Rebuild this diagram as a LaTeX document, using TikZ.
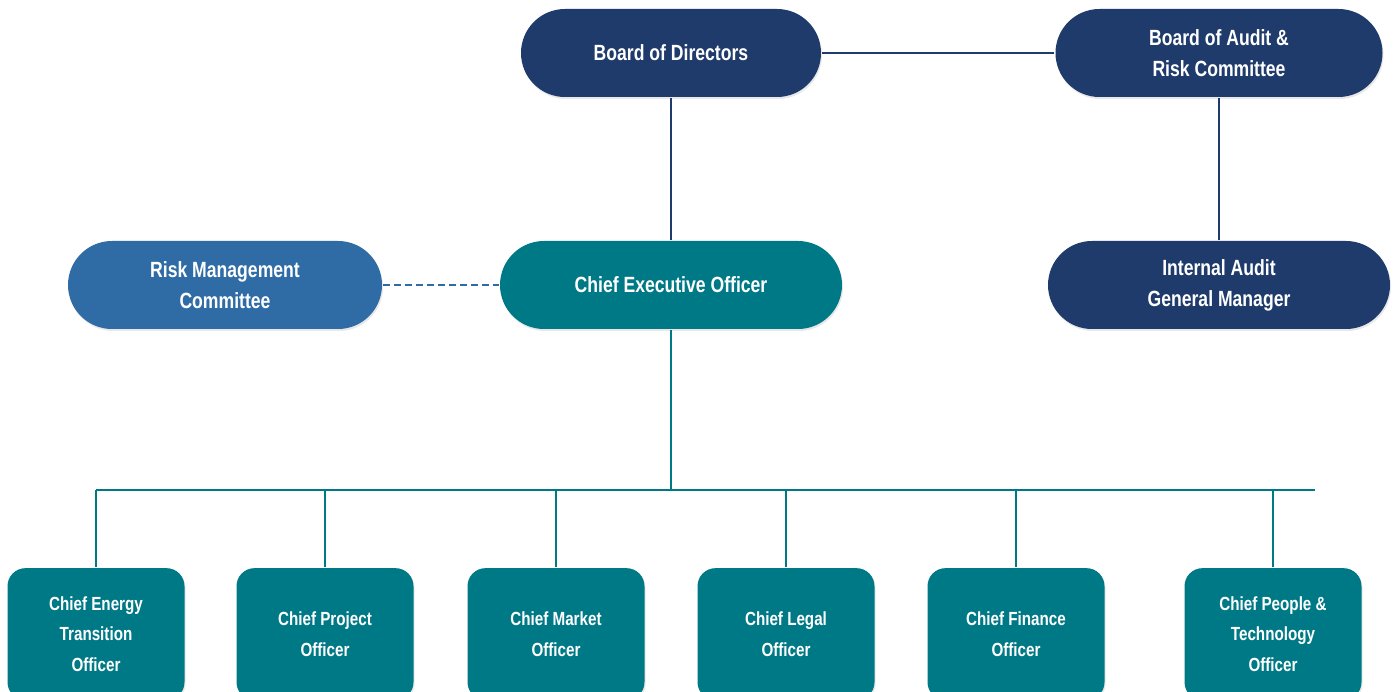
\documentclass[tikz,border=0pt]{standalone}
\usepackage{fontspec}
\setmainfont{Liberation Sans}[FakeStretch=0.8]
\usepackage{tikz}
\usetikzlibrary{positioning,shadows}
\definecolor{navy}{HTML}{1F3B6B}
\definecolor{teal}{HTML}{007987}
\definecolor{riskblue}{HTML}{2F6CA6}
\newcommand{\Txt}{\bfseries\fontsize{22}{31}\selectfont}
\newcommand{\SmallTxt}{\bfseries\fontsize{19}{30.5}\selectfont}

\begin{document}
\begin{tikzpicture}[x=1pt, y=-1pt, line width=2.3pt]
		\tikzstyle{pill}=[rounded corners=44pt, minimum height=88pt, text=white, align=center,
		font=\Txt, inner sep=0pt, drop shadow={opacity=0.18, shadow xshift=1pt, shadow yshift=-2pt}]
		\tikzstyle{officer}=[pill, fill=teal, rounded corners=18pt, minimum width=177pt,
		minimum height=132pt, anchor=north, font=\SmallTxt]
		\useasboundingbox[fill=white] (0,0) rectangle (1395,692);
		\begin{scope}
			% board level
			\node[pill,fill=navy,minimum width=300pt] (board) at (671,53) {Board of Directors};
			\node[pill,fill=navy,minimum width=327pt] (audit) at (1219,53) {Board of Audit \&\\Risk Committee};
			% executive level
			\node[pill,fill=riskblue,minimum width=314pt] (risk) at (225,285) {Risk Management\\Committee};
			\node[pill,fill=teal,minimum width=342pt] (ceo) at (671,285) {Chief Executive Officer};
			\node[pill,fill=navy,minimum width=342pt] (internal) at (1219,285) {Internal Audit\\General Manager};
			% officers
			\node[officer] (energy) at (96,567) {Chief Energy\\Transition\\Officer};
			\node[officer] (project) at (325,567) {Chief Project\\Officer};
			\node[officer] (market) at (556,567) {Chief Market\\Officer};
			\node[officer] (legal) at (786,567) {Chief Legal\\Officer};
			\node[officer] (finance) at (1016,567) {Chief Finance\\Officer};
			\node[officer] (people) at (1273,567) {Chief People \&\\Technology\\Officer};

			\coordinate (bus) at (671,490); \coordinate (busL) at (96,490);
			\coordinate (busR) at (1315,490);

			\draw[navy] (board) -- (ceo); \draw[navy] (board) -- (audit);
			\draw[navy] (audit) -- (internal);
			\draw[riskblue,line width=2.6pt,dash pattern=on 7pt off 4pt] (risk) -- (ceo);
			\draw[teal] (ceo) -- (bus); \draw[teal] (busL) -- (busR);
			\foreach \o in {energy,project,market,legal,finance,people}
				\draw[teal] (\o.north |- bus) -- (\o);
		\end{scope}
	\end{tikzpicture}
\end{document}
